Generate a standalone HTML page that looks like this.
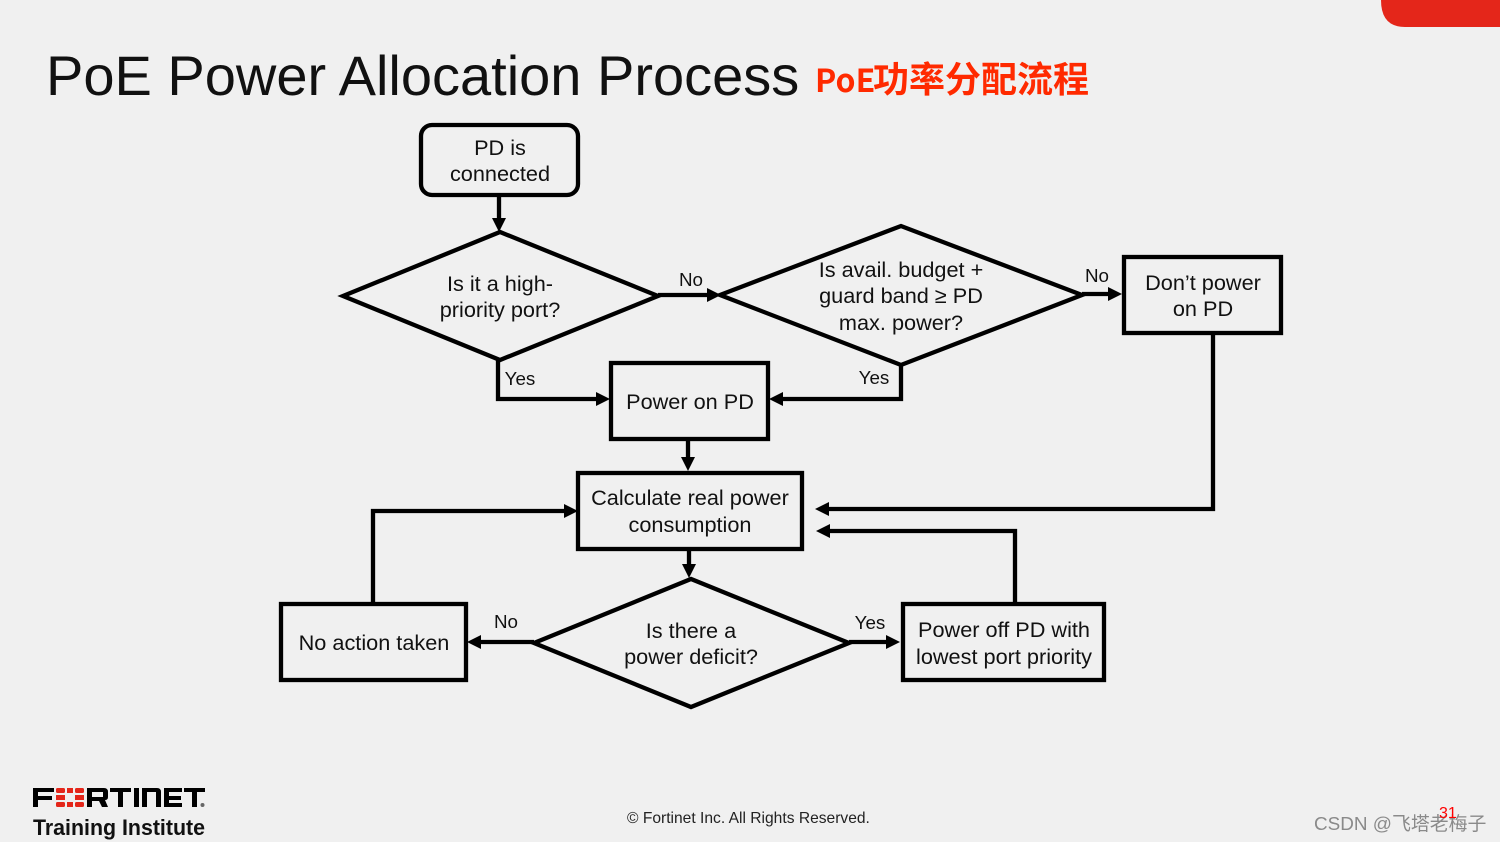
<!DOCTYPE html>
<html><head><meta charset="utf-8"><style>
html,body{margin:0;padding:0;background:#f0f0f0;width:1500px;height:842px;overflow:hidden}
svg{display:block}
text{font-family:"Liberation Sans","Noto Sans CJK SC",sans-serif}
.t{font-size:21.7px;fill:#111;text-anchor:middle}
.l{font-size:18.800px;fill:#111;text-anchor:middle}
.s{fill:none;stroke:#000;stroke-width:4.300;stroke-linejoin:miter}
.w{fill:none;stroke:#000;stroke-width:4.300}
</style></head><body>
<svg width="1500" height="842" viewBox="0 0 1500 842" xmlns="http://www.w3.org/2000/svg">
<rect width="1500" height="842" fill="#f0f0f0"/>
<path d="M1381 0H1500V27H1405Q1381 27 1381 0Z" fill="#e4261a"/>
<text x="46" y="95" font-size="56" fill="#111">PoE Power Allocation Process</text>
<text x="815" y="92" font-size="36" font-weight="bold" fill="#ff2a00" style="font-family:'Noto Sans CJK SC',sans-serif"><tspan font-size="32">PoE</tspan><tspan x="873">功率分配流程</tspan></text>

<!-- shapes -->
<rect x="421" y="125" width="157" height="70" rx="11" class="s"/>
<polygon points="343,296 500,232 658,296 500,360" class="s"/>
<polygon points="720,295 901,226 1082,295 901,365" class="s"/>
<rect x="1124" y="257" width="157" height="76" class="s"/>
<rect x="611" y="363" width="157" height="76" class="s"/>
<rect x="578" y="473" width="224" height="76" class="s"/>
<polygon points="534,643 691,579 849,643 691,707" class="s"/>
<rect x="281" y="604" width="185" height="76" class="s"/>
<rect x="903" y="604" width="201" height="76" class="s"/>

<!-- connectors -->
<path d="M499 195V220" class="w"/><polygon points="492,218 506,218 499,232"/>
<path d="M658 295H710" class="w"/><polygon points="707,288 721,295 707,302"/>
<path d="M1082 294H1110" class="w"/><polygon points="1108,287 1122,294 1108,301"/>
<path d="M498 360V399H598" class="w"/><polygon points="596,392 610,399 596,406"/>
<path d="M901 365V399H780" class="w"/><polygon points="783,392 769,399 783,406"/>
<path d="M688 439V460" class="w"/><polygon points="681,457 695,457 688,471"/>
<path d="M689 549V567" class="w"/><polygon points="682,564 696,564 689,578"/>
<path d="M1213 333V509H826" class="w"/><polygon points="829,502 815,509 829,516"/>
<path d="M1015 604V531H828" class="w"/><polygon points="830,524 816,531 830,538"/>
<path d="M373 604V511H566" class="w"/><polygon points="564,504 578,511 564,518"/>
<path d="M534 642H478" class="w"/><polygon points="481,635 467,642 481,649"/>
<path d="M849 642H888" class="w"/><polygon points="886,635 900,642 886,649"/>

<!-- node labels -->
<text class="t" x="500" y="155">PD is</text>
<text class="t" x="500" y="181">connected</text>
<text class="t" x="500" y="291">Is it a high-</text>
<text class="t" x="500" y="317">priority port?</text>
<text class="t" x="901" y="277">Is avail. budget +</text>
<text class="t" x="901" y="303">guard band ≥ PD</text>
<text class="t" x="901" y="330">max. power?</text>
<text class="t" x="1203" y="290">Don’t power</text>
<text class="t" x="1203" y="316">on PD</text>
<text class="t" x="690" y="409">Power on PD</text>
<text class="t" x="690" y="505">Calculate real power</text>
<text class="t" x="690" y="532">consumption</text>
<text class="t" x="691" y="638">Is there a</text>
<text class="t" x="691" y="664">power deficit?</text>
<text class="t" x="374" y="650">No action taken</text>
<text class="t" x="1004" y="637">Power off PD with</text>
<text class="t" x="1004" y="664">lowest port priority</text>

<!-- edge labels -->
<text class="l" x="691" y="286">No</text>
<text class="l" x="1097" y="282">No</text>
<text class="l" x="520" y="385">Yes</text>
<text class="l" x="874" y="384">Yes</text>
<text class="l" x="506" y="628">No</text>
<text class="l" x="870" y="629">Yes</text>

<!-- logo -->
<path d="M33 788H54V792H38V796H52V800H38V807H33Z" fill="#000"/>
<g fill="#e4261a">
<rect x="56" y="788" width="9" height="5" rx="1.500"/><rect x="67" y="788" width="6" height="5"/><rect x="75" y="788" width="9" height="5" rx="1.500"/>
<rect x="56" y="795" width="9" height="5"/><rect x="75" y="795" width="9" height="5"/>
<rect x="56" y="802" width="9" height="5" rx="1.500"/><rect x="67" y="802" width="6" height="5"/><rect x="75" y="802" width="9" height="5" rx="1.500"/>
</g>
<path d="M87 788H104Q108 788 108 792V797Q108 800 105 800L108 807H102L99 801H92V807H87ZM92 792V797H103V792Z" fill="#000" fill-rule="evenodd"/>
<path d="M110 788H131V792H123V807H118V792H110Z" fill="#000"/>
<rect x="134" y="788" width="5" height="19" fill="#000"/>
<path d="M142 788H157Q161 788 161 792V807H156V792H147V807H142Z" fill="#000"/>
<path d="M164 788H182V792H169V796H181V800H169V803H182V807H164Z" fill="#000"/>
<path d="M184 788H205V792H197V807H192V792H184Z" fill="#000"/>
<circle cx="202.500" cy="805" r="2" fill="#666"/>
<text x="33" y="835" font-size="22" font-weight="bold" fill="#111" textLength="172" lengthAdjust="spacingAndGlyphs">Training Institute</text>

<!-- footer -->
<text x="627" y="823" font-size="15.600" fill="#222">© Fortinet Inc. All Rights Reserved.</text>
<text x="1314" y="830" font-size="18.900" fill="#8a8a8a">CSDN @飞塔老梅子</text>
<text x="1439" y="818" font-size="16" fill="#f00">31</text>
</svg>
</body></html>
